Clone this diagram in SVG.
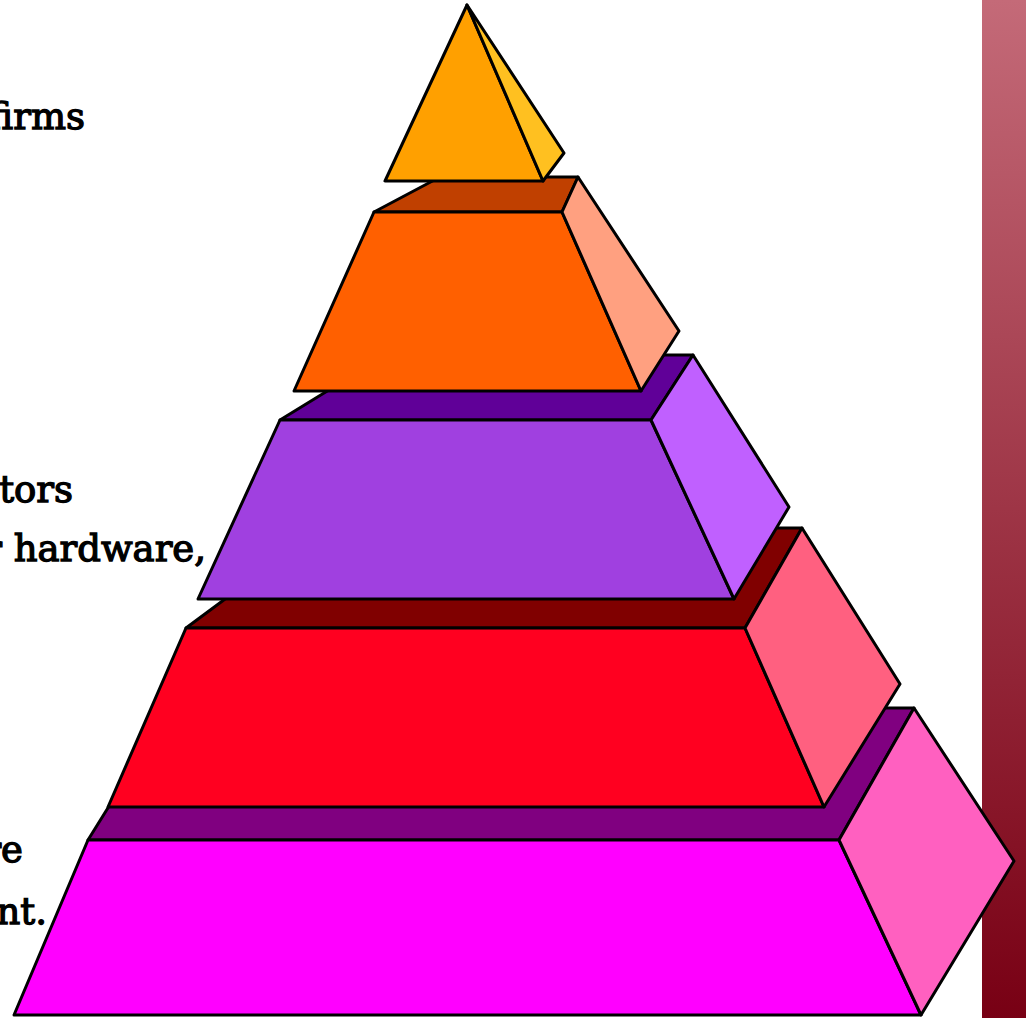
<svg xmlns="http://www.w3.org/2000/svg" width="1026" height="1018" viewBox="0 0 1026 1018">
<defs>
<linearGradient id="barGrad" x1="0" y1="0" x2="0" y2="1">
<stop offset="0" stop-color="#C46A78"/>
<stop offset="1" stop-color="#780014"/>
</linearGradient>
<style>
.lbl{font-family:"DejaVu Serif","Liberation Serif",serif;font-size:37px;fill:#000;stroke:#000;stroke-width:1.3;text-anchor:end}
.f{stroke:#000;stroke-width:3;stroke-linejoin:round}
</style>
</defs>
<rect x="0" y="0" width="1026" height="1018" fill="#fff"/>
<rect id="bar" x="982" y="0" width="44" height="1018" fill="url(#barGrad)"/>
<g id="labels">
<text class="lbl" x="85" y="129">firms</text>
<text class="lbl" x="73" y="502">tors</text>
<text class="lbl" x="206" y="561">r hardware,</text>
<text class="lbl" x="23" y="862">re</text>
<text class="lbl" x="47" y="924">nt.</text>
</g>
<g id="tier5">
<polygon class="f" fill="#800080" points="88,840 170,708 914,708 839,840"/>
<polygon class="f" fill="#FF00FF" points="88,840 839,840 921,1015 14,1015"/>
<polygon class="f" fill="#FF60C0" points="839,840 914,708 1014,861 921,1015"/>
</g>
<g id="tier4">
<polygon class="f" fill="#800000" points="186,628 321,528 802,528 745,628"/>
<polygon class="f" fill="#FF0020" points="186,628 745,628 824,807 108,807"/>
<polygon class="f" fill="#FF6080" points="745,628 802,528 900,684 824,807"/>
</g>
<g id="tier3">
<polygon class="f" fill="#600098" points="280,420 386,355 693,355 651,420"/>
<polygon class="f" fill="#A040E0" points="280,420 651,420 734,599 198,599"/>
<polygon class="f" fill="#C060FF" points="651,420 693,355 789,507 734,599"/>
</g>
<g id="tier2">
<polygon class="f" fill="#C04000" points="374,212 440,177 578,177 562,212"/>
<polygon class="f" fill="#FF6000" points="374,212 562,212 641,391 294,391"/>
<polygon class="f" fill="#FFA080" points="562,212 578,177 679,331 641,391"/>
</g>
<g id="tier1">
<polygon class="f" fill="#FFA000" points="467,5 385,181 543,181"/>
<polygon class="f" fill="#FFC020" points="467,5 564,153 543,181"/>
</g>
</svg>
